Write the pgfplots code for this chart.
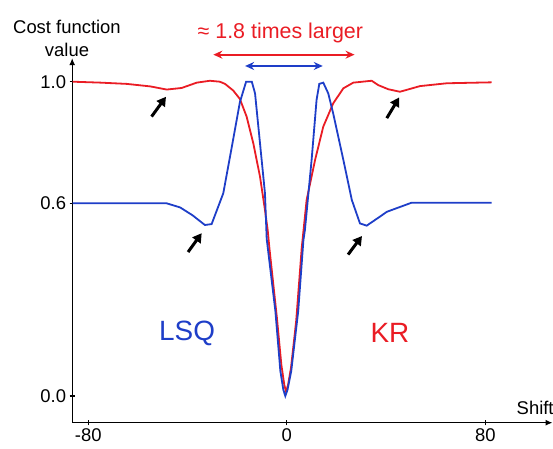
\documentclass[border=0pt]{standalone}
\usepackage{pgfplots}
\pgfplotsset{compat=1.18}
\usepackage{fontspec}
\setmainfont{Liberation Sans}
\usetikzlibrary{arrows.meta}
\definecolor{cred}{RGB}{234,28,36}
\definecolor{cblue}{RGB}{30,62,200}
\begin{document}
\begin{tikzpicture}
\useasboundingbox (-286.8bp,-53bp) rectangle (266.2bp,396bp);
\begin{axis}[
  at={(0,0)}, anchor=origin,
  x=2.481bp, y=314.3bp,
  xmin=-86.5, xmax=107.1,
  ymin=-0.085, ymax=1.075,
  axis lines=left,
  axis line style={line width=1.2bp, -{Latex[length=7bp,width=6bp]}},
  tick style={line width=1.2bp, black},
  tick align=center,
  major tick length=5.3bp,
  xtick={-80,0,80},
  ytick={0,0.613,1},
  yticklabels={0.0,0.6,1.0},
  /pgf/number format/assume math mode=true,
  ticklabel style={font=\fontsize{18.5}{22}\selectfont},
  clip=false,
]
\addplot[cred, line width=1.8bp] coordinates {
(-86.3,1.0) (-75,0.997) (-64.5,0.993) (-55,0.985) (-48.4,0.975) (-42.4,0.980)
(-36.3,0.997) (-31.0,1.003) (-27,1.0) (-24.9,0.993) (-21.6,0.972) (-18.9,0.945)
(-16.2,0.889) (-13.5,0.804) (-10.8,0.698) (-8.8,0.592) (-7.7,0.528) (-7.0,0.47)
(-4.0,0.25) (-2.2,0.10) (-1.0,0.035) (-0.3,0.014) (0.5,0.035) (1.7,0.09)
(3.8,0.24) (6.0,0.47) (8.0,0.624) (11.4,0.751) (14.7,0.857) (18.7,0.931)
(22.8,0.979) (26.8,0.997) (34.2,1.003) (36.9,0.989) (40.9,0.976) (45.6,0.968)
(53.7,0.986) (64.5,0.995) (82.6,0.998)
};
\addplot[cblue, line width=1.8bp] coordinates {
(-86.3,0.613) (-48.4,0.613) (-43.0,0.600) (-38,0.575) (-33.0,0.544) (-30.3,0.547)
(-25.6,0.645) (-21.9,0.804) (-18.9,0.935) (-16.4,1.0) (-14.1,1.0) (-12.8,0.963)
(-10.8,0.804) (-8.8,0.645) (-8.1,0.50) (-4.6,0.27) (-2.6,0.08) (-1.4,0.02)
(-0.6,0.0) (0.3,0.02) (1.8,0.08) (4.6,0.27) (6.7,0.496) (7.3,0.528)
(10.0,0.751) (12.0,0.942) (13.1,0.993) (14.7,0.997) (16.7,0.963) (18.7,0.899)
(22.8,0.751) (26.2,0.624) (29.5,0.549) (32.2,0.542) (37.6,0.571) (40.3,0.586)
(50.3,0.615) (82.6,0.615)
};
\draw[cred, line width=1.7bp, {Stealth[length=9bp,width=8bp]}-{Stealth[length=9bp,width=8bp]}]
  (axis cs:-29.6,1.086) -- (axis cs:27.3,1.086);
\draw[cblue, line width=1.7bp, {Stealth[length=9bp,width=8bp]}-{Stealth[length=9bp,width=8bp]}]
  (axis cs:-16.8,1.05) -- (axis cs:14.5,1.05);
\node[cred, font=\fontsize{21.5}{24}\selectfont] at (axis cs:-2.6,1.154) {≈ 1.8 times larger};
\draw[black, line width=3bp, -{Triangle[length=9bp,width=10bp]}] (axis cs:-54.5,0.889) -- (axis cs:-48.7,0.952);
\draw[black, line width=3bp, -{Triangle[length=9bp,width=10bp]}] (axis cs:-39.8,0.458) -- (axis cs:-34.3,0.518);
\draw[black, line width=3bp, -{Triangle[length=9bp,width=10bp]}] (axis cs:40.3,0.884) -- (axis cs:45.3,0.950);
\draw[black, line width=3bp, -{Triangle[length=9bp,width=10bp]}] (axis cs:24.7,0.45) -- (axis cs:30.3,0.509);
\node[cblue, font=\fontsize{28}{30}\selectfont] at (axis cs:-40.2,0.2) {LSQ};
\node[cred, font=\fontsize{28}{30}\selectfont] at (axis cs:41.6,0.2) {KR};
\node[anchor=base west, font=\fontsize{18.5}{22}\selectfont, inner sep=0pt] at (axis cs:92.6,-0.060) {Shift};
\node[align=center, font=\fontsize{18.5}{23}\selectfont, inner sep=0pt] at (axis cs:-88.6,1.139) {Cost function\\value};
\end{axis}
\end{tikzpicture}
\end{document}
